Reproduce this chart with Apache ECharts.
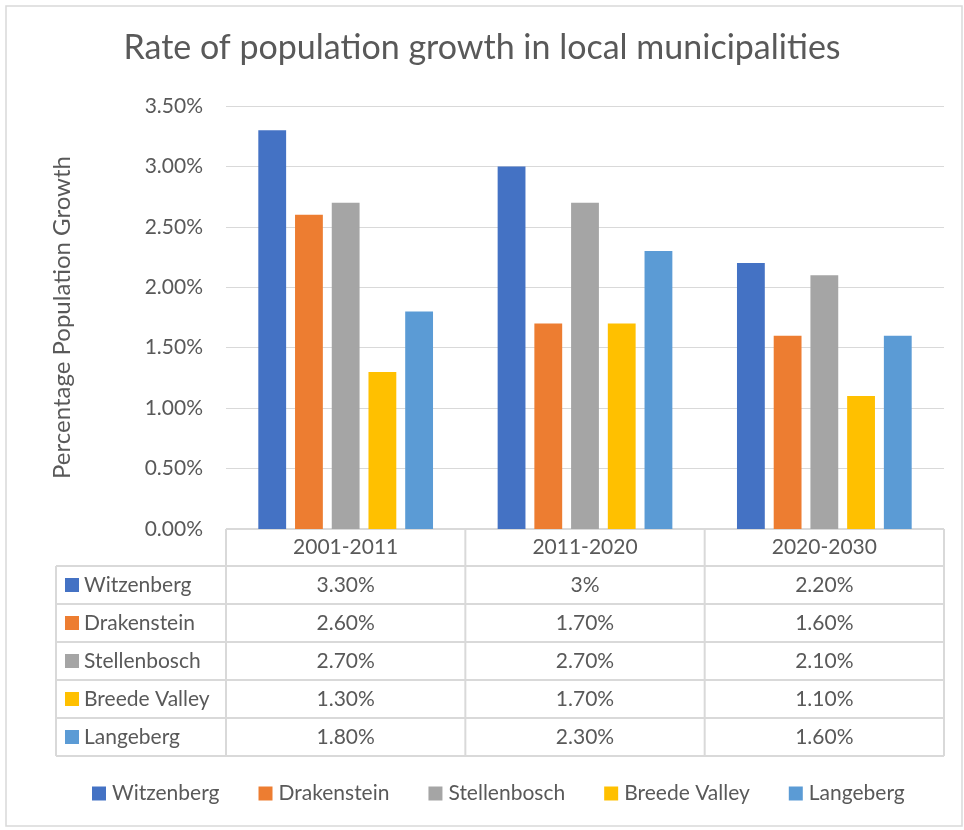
<!DOCTYPE html>
<html>
<head>
<meta charset="utf-8">
<title>Rate of population growth</title>
<script src="https://cdn.jsdelivr.net/npm/echarts@6/dist/echarts.min.js"></script>
<style>
  html, body { margin: 0; padding: 0; background: #fff; }
  #main { width: 964px; height: 830px; }
</style>
</head>
<body>
<div id="main"></div>
<script>
// periods on the x axis
var periods = ['2001-2011', '2011-2020', '2020-2030'];
// municipalities (series)
var names = ['Witzenberg', 'Drakenstein', 'Stellenbosch', 'Breede Valley', 'Langeberg'];
var colors = ['#4472C4', '#ED7D31', '#A5A5A5', '#FFC000', '#5B9BD5'];
// growth rates in percent
var witzenberg = [3.3, 3.0, 2.2];
var drakenstein = [2.6, 1.7, 1.6];
var stellenbosch = [2.7, 2.7, 2.1];
var breedeValley = [1.3, 1.7, 1.1];
var langeberg = [1.8, 2.3, 1.6];
var values = [witzenberg, drakenstein, stellenbosch, breedeValley, langeberg];

var FONT = 'Lato, "Open Sans", sans-serif';
var TXT = '#595959';
var LINE = '#d9d9d9';

var gLeft = 226, gRight = 944, gTop = 106, gBottom = 529;
var rowH = 38, headH = 37, labelLeft = 56;

function pct(v) {
  return Number.isInteger(v) ? v + '%' : v.toFixed(2) + '%';
}

var chart = echarts.init(document.getElementById('main'));

var series = names.map(function (n, i) {
  return {
    name: n,
    type: 'bar',
    data: values[i],
    itemStyle: { color: colors[i] },
    barGap: '32%',
    barCategoryGap: '27%'
  };
});

chart.setOption({
  backgroundColor: '#fff',
  animation: false,
  textStyle: { fontFamily: FONT },
  title: {
    text: 'Rate of population growth in local municipalities',
    left: 'center',
    top: 26,
    textStyle: { fontFamily: FONT, fontSize: 34, fontWeight: 'normal', color: TXT }
  },
  legend: {
    bottom: 21,
    left: 87,
    icon: 'rect',
    itemWidth: 14,
    itemHeight: 14,
    itemGap: 39,
    textStyle: { fontFamily: FONT, fontSize: 21, color: TXT, padding: [0, 0, 0, 1] },
    data: names
  },
  grid: { left: gLeft, right: 964 - gRight, top: gTop, bottom: 830 - gBottom, containLabel: false },
  xAxis: {
    type: 'category',
    data: periods,
    axisLine: { show: false },
    axisTick: { show: false },
    axisLabel: { show: false }
  },
  yAxis: {
    type: 'value',
    min: 0,
    max: 3.5,
    interval: 0.5,
    name: 'Percentage Population Growth',
    nameLocation: 'middle',
    nameGap: 152,
    nameTextStyle: { fontFamily: FONT, fontSize: 24, color: TXT },
    axisLine: { show: false },
    axisTick: { show: false },
    axisLabel: {
      formatter: function (v) { return v.toFixed(2) + '%'; },
      fontFamily: FONT, fontSize: 21, color: TXT, margin: 23
    },
    splitLine: { lineStyle: { color: LINE, width: 1 } }
  },
  series: series
});

// data table under the plot
var g = [];
var colW = (gRight - gLeft) / periods.length;
var tableBottom = gBottom + headH + rowH * names.length;
var lineStyle = { stroke: LINE, lineWidth: 2 };

// outer chart border
g.push({ type: 'rect', shape: { x: 6, y: 6, width: 956, height: 820 }, style: { fill: null, stroke: LINE, lineWidth: 1.5 }, silent: true });

// header row
g.push({ type: 'line', shape: { x1: gLeft, y1: gBottom, x2: gRight, y2: gBottom }, style: lineStyle });
for (var c = 0; c <= periods.length; c++) {
  var x = gLeft + c * colW;
  g.push({ type: 'line', shape: { x1: x, y1: gBottom, x2: x, y2: tableBottom }, style: lineStyle });
}
g.push({ type: 'line', shape: { x1: labelLeft, y1: gBottom + headH, x2: labelLeft, y2: tableBottom }, style: lineStyle });
periods.forEach(function (p, c) {
  g.push({ type: 'text', x: gLeft + (c + 0.5) * colW, y: gBottom + headH / 2,
    style: { text: p, fill: TXT, font: '21px ' + FONT, align: 'center', verticalAlign: 'middle' } });
});
// body rows
for (var r = 0; r <= names.length; r++) {
  var y = gBottom + headH + r * rowH;
  g.push({ type: 'line', shape: { x1: labelLeft, y1: y, x2: gRight, y2: y }, style: lineStyle });
}
names.forEach(function (n, r) {
  var cy = gBottom + headH + (r + 0.5) * rowH;
  g.push({ type: 'rect', shape: { x: labelLeft + 9, y: cy - 7, width: 14, height: 14 }, style: { fill: colors[r] } });
  g.push({ type: 'text', x: labelLeft + 28, y: cy,
    style: { text: n, fill: TXT, font: '21px ' + FONT, align: 'left', verticalAlign: 'middle' } });
  values[r].forEach(function (v, c) {
    g.push({ type: 'text', x: gLeft + (c + 0.5) * colW, y: cy,
      style: { text: pct(v), fill: TXT, font: '21px ' + FONT, align: 'center', verticalAlign: 'middle' } });
  });
});

chart.setOption({ graphic: { elements: g } });
</script>
</body>
</html>
